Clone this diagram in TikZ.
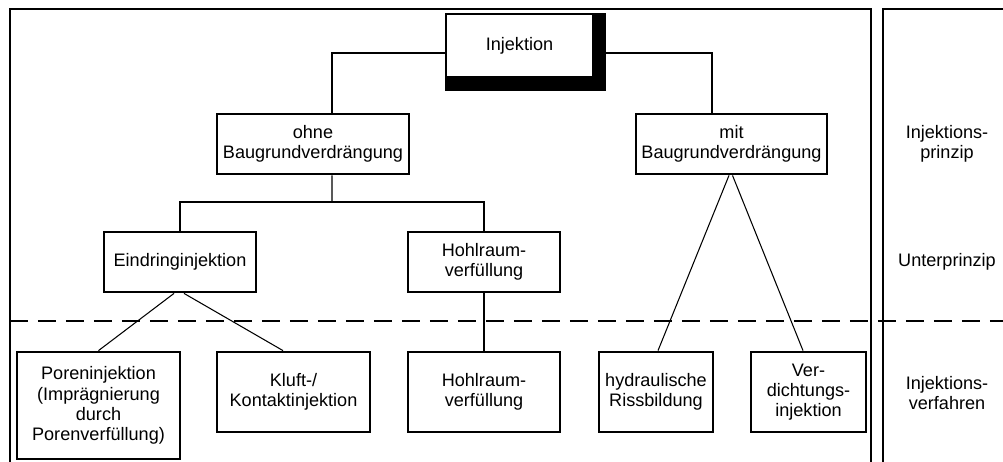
\documentclass[tikz,border=0pt]{standalone}
\usepackage{fontspec}
\setmainfont{Liberation Sans}
\usetikzlibrary{backgrounds}

\tikzset{
  stufe/.style={draw,line width=1.6pt,fill=white,align=center,inner sep=0pt,
    font=\fontsize{10.3}{11.5}\selectfont},
  ebene/.style={align=center,font=\fontsize{10.3}{11.5}\selectfont},
  verb/.style={line width=0.6pt},
  rahmen/.style={line width=0.6pt}
}

\begin{document}
\begin{tikzpicture}[x=0.02cm,y=-0.02cm]
  \useasboundingbox (0,0) rectangle (1003,462);
  \draw[rahmen] (10,462) -- (10,9) -- (871,9) -- (871,462);
  \draw[rahmen] (883,462) -- (883,9) -- (1003,9);
  \draw[rahmen,dash pattern=on 0.36cm off 0.2cm] (10,321) -- (1003,321);

  \node[stufe,minimum width=2.94cm,minimum height=1.26cm] (inj) at (519.5,45.5) {Injektion};
  \node[stufe,minimum width=3.84cm,minimum height=1.2cm] (ohne) at (313,144) {ohne\\Baugrundverdrängung};
  \node[stufe,minimum width=3.82cm,minimum height=1.2cm] (mit) at (731.5,144) {mit\\Baugrundverdrängung};
  \node[stufe,minimum width=3.04cm,minimum height=1.2cm] (eind) at (180,262) {Eindringinjektion};
  \node[stufe,minimum width=3.04cm,minimum height=1.2cm] (hohl1) at (484,262) {Hohlraum-\\verfüllung};
  \node[stufe,minimum width=3.26cm,minimum height=2.14cm] (pore) at (98.5,405.5) {Poreninjektion\\(Imprägnierung\\durch\\Porenverfüllung)};
  \node[stufe,minimum width=3.06cm,minimum height=1.6cm] (kluft) at (293.5,392) {Kluft-/\\Kontaktinjektion};
  \node[stufe,minimum width=3.04cm,minimum height=1.6cm] (hohl2) at (484,392) {Hohlraum-\\verfüllung};
  \node[stufe,minimum width=2.28cm,minimum height=1.6cm] (hydr) at (656,392) {hydraulische\\Rissbildung};
  \node[stufe,minimum width=2.3cm,minimum height=1.6cm] (verd) at (808.5,392) {Ver-\\dichtungs-\\injektion};

  \begin{scope}[on background layer]
    \fill (inj.north west) rectangle ([shift={(0.24cm,-0.26cm)}]inj.south east);
  \end{scope}

  \node[ebene] (prinzip) at (947,144) {Injektions-\\prinzip};
  \node[ebene] (unter) at (947,262) {Unterprinzip};
  \node[ebene] (verfahren) at (947,393) {Injektions-\\verfahren};

  \coordinate (split) at (332,202);
  \draw[verb] ([yshift=-0.15cm]inj.west) -| ([xshift=0.38cm]ohne.north);
  \draw[verb] ([shift={(0.24cm,-0.15cm)}]inj.east) -| ([xshift=-0.39cm]mit.north);
  \draw[verb] ([xshift=0.38cm]ohne.south) -- (split);
  \draw[verb] (eind.north) |- (split) -| (hohl1.north);
  \draw[verb] ([xshift=-0.12cm]eind.south) -- (pore.north);
  \draw[verb] ([xshift=0.08cm]eind.south) -- ([xshift=-0.21cm]kluft.north);
  \draw[verb] (hohl1.south) -- (hohl2.north);
  \draw[verb] ([xshift=-0.05cm]mit.south) -- ([xshift=0.04cm]hydr.north);
  \draw[verb] ([xshift=0.02cm]mit.south) -- ([xshift=-0.11cm]verd.north);
\end{tikzpicture}
\end{document}
